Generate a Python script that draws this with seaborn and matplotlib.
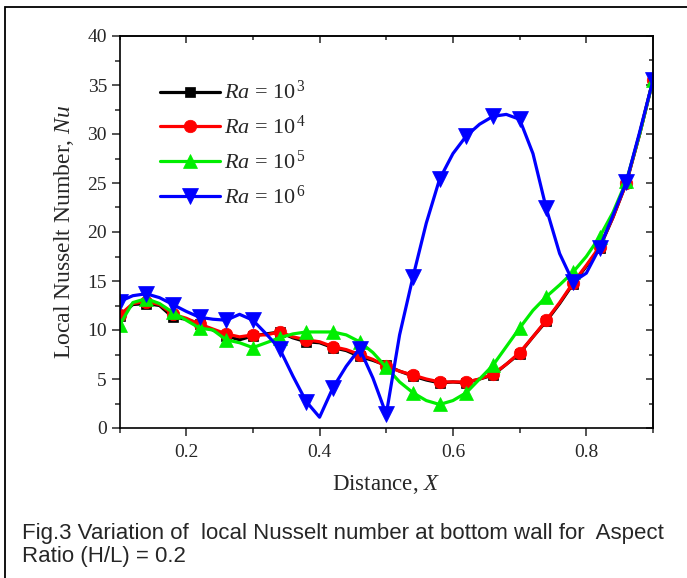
import numpy as np
import pandas as pd
import matplotlib
matplotlib.use("Agg")
import matplotlib.pyplot as plt
from matplotlib.ticker import MultipleLocator
from matplotlib.patches import Rectangle
import seaborn as sns

# ---------------- data ----------------
x_vals = [round(0.10 + 0.02 * i, 2) for i in range(41)]

nu_ra1e3 = [11.4, 12.6, 12.7, 12.5, 11.3, 11.1, 10.6, 10.0, 9.4, 9.0,
            9.4, 9.6, 9.8, 9.2, 8.8, 8.7, 8.2, 7.9, 7.3, 6.9,
            6.4, 5.8, 5.3, 4.9, 4.6, 4.7, 4.6, 5.0, 5.4, 6.5,
            7.6, 9.3, 10.9, 12.7, 14.7, 16.5, 18.4, 21.5, 25.0, 30.0, 35.5]
nu_ra1e4 = [11.5, 12.7, 12.9, 12.6, 11.6, 11.2, 10.6, 10.1, 9.6, 9.3,
            9.5, 9.5, 9.8, 9.3, 9.0, 8.8, 8.3, 8.0, 7.5, 7.0,
            6.3, 5.8, 5.4, 5.0, 4.7, 4.7, 4.7, 5.0, 5.5, 6.5,
            7.7, 9.3, 11.0, 12.8, 14.8, 16.6, 18.5, 21.5, 25.0, 30.0, 35.5]
nu_ra1e5 = [10.5, 12.8, 13.2, 12.7, 11.8, 11.0, 10.2, 10.0, 9.0, 8.7,
            8.2, 8.7, 9.2, 9.6, 9.8, 9.8, 9.8, 9.5, 8.8, 7.7,
            6.2, 4.7, 3.6, 2.8, 2.4, 2.8, 3.6, 5.0, 6.4, 8.3,
            10.2, 12.0, 13.4, 14.6, 15.9, 17.5, 19.5, 22.0, 25.2, 30.0, 35.5]
nu_ra1e6 = [12.9, 13.5, 13.7, 13.3, 12.6, 11.9, 11.3, 11.1, 11.0, 11.6,
            11.0, 9.6, 8.1, 5.3, 2.7, 1.1, 4.1, 6.3, 8.1, 5.1,
            1.4, 9.5, 15.4, 20.9, 25.4, 28.0, 29.8, 31.0, 31.8, 32.0,
            31.5, 28.0, 22.4, 17.8, 14.9, 15.8, 18.4, 21.7, 25.1, 30.2, 35.5]

series_labels = [r"$Ra$ = 10$^{\,3}$", r"$Ra$ = 10$^{\,4}$",
                 r"$Ra$ = 10$^{\,5}$", r"$Ra$ = 10$^{\,6}$"]
series_values = [nu_ra1e3, nu_ra1e4, nu_ra1e5, nu_ra1e6]
series_colors = ["#000000", "#ff0000", "#00ee00", "#0000ff"]
series_markers = ["s", "o", "^", "v"]
series_msizes = [7.5, 9, 10.5, 11.5]

x_ticks = [0.2, 0.4, 0.6, 0.8]
y_ticks = [0, 5, 10, 15, 20, 25, 30, 35, 40]

caption = ("Fig.3 Variation of  local Nusselt number at bottom wall for  Aspect\n"
           "Ratio (H/L) = 0.2")

# ---------------- style ----------------
sns.set_style("ticks")
plt.rcParams["font.family"] = ["Liberation Serif", "DejaVu Serif"]
plt.rcParams["mathtext.fontset"] = "custom"
plt.rcParams["mathtext.rm"] = "Liberation Serif"
plt.rcParams["mathtext.it"] = "Liberation Serif:italic"
plt.rcParams["mathtext.bf"] = "Liberation Serif:bold"

fig = plt.figure(figsize=(6.87, 5.78), dpi=100)
ax = fig.add_axes([119.5 / 687, 1 - 428 / 578, (653 - 119.5) / 687, (428 - 36) / 578])

frames = []
for lab, vals in zip(series_labels, series_values):
    frames.append(pd.DataFrame({"X": x_vals, "Nu": vals, "series": lab}))
df = pd.concat(frames, ignore_index=True)

for lab, col, mk, ms in zip(series_labels, series_colors, series_markers, series_msizes):
    sub = df[df["series"] == lab]
    sns.lineplot(data=sub, x="X", y="Nu", ax=ax, color=col, marker=mk,
                 markersize=ms, markeredgecolor=col, markeredgewidth=0.5,
                 linewidth=2.3, markevery=2, label=lab, sort=False,
                 clip_on=True)

ax.set_xlim(0.1, 0.9)
ax.set_ylim(0, 40)
ax.set_xticks(x_ticks)
ax.set_xticklabels([f"{t:.1f}" for t in x_ticks])
ax.set_yticks(y_ticks)
ax.xaxis.set_minor_locator(MultipleLocator(0.1))
ax.yaxis.set_minor_locator(MultipleLocator(2.5))
ax.tick_params(which="major", direction="out", length=6, width=1.1,
               labelsize=14, pad=3)
ax.tick_params(axis="x", which="major", pad=5.5)
ax.tick_params(which="minor", direction="out", length=3.5, width=1.1)
for s in ax.spines.values():
    s.set_linewidth(1.2)
    s.set_color("black")

# mirrored inward ticks on top/right
secx = ax.secondary_xaxis("top")
secx.set_xticks(x_ticks)
secx.xaxis.set_minor_locator(MultipleLocator(0.1))
secx.tick_params(which="major", direction="in", length=5, width=1.1, labeltop=False)
secx.tick_params(which="minor", direction="in", length=3, width=1.1)
secy = ax.secondary_yaxis("right")
secy.set_yticks(y_ticks)
secy.yaxis.set_minor_locator(MultipleLocator(2.5))
secy.tick_params(which="major", direction="in", length=5, width=1.1, labelright=False)
secy.tick_params(which="minor", direction="in", length=3, width=1.1)
secx.spines["top"].set_linewidth(1.2)
secy.spines["right"].set_linewidth(1.2)

ax.set_xlabel(r"Distance, $X$", fontsize=16.5, labelpad=9)
ax.set_ylabel(r"Local Nusselt Number, $Nu$", fontsize=17, labelpad=8)

leg = ax.legend(loc="upper left", bbox_to_anchor=(0.075, 0.885), frameon=False,
                fontsize=16, handlelength=2.7, handletextpad=0.2,
                labelspacing=0.52, borderpad=0, borderaxespad=0)

fig.text(22 / 687, 1 - 523 / 578, caption, fontsize=16,
         family=["Liberation Sans", "DejaVu Sans"], va="top", ha="left",
         linespacing=1.12)

fig.patches.append(Rectangle((5 / 687, -0.05), 1.2, 1 - 7 / 578 + 0.05,
                             transform=fig.transFigure, fill=False,
                             edgecolor="black", linewidth=1.3))

fig.savefig("out.png", dpi=100)
